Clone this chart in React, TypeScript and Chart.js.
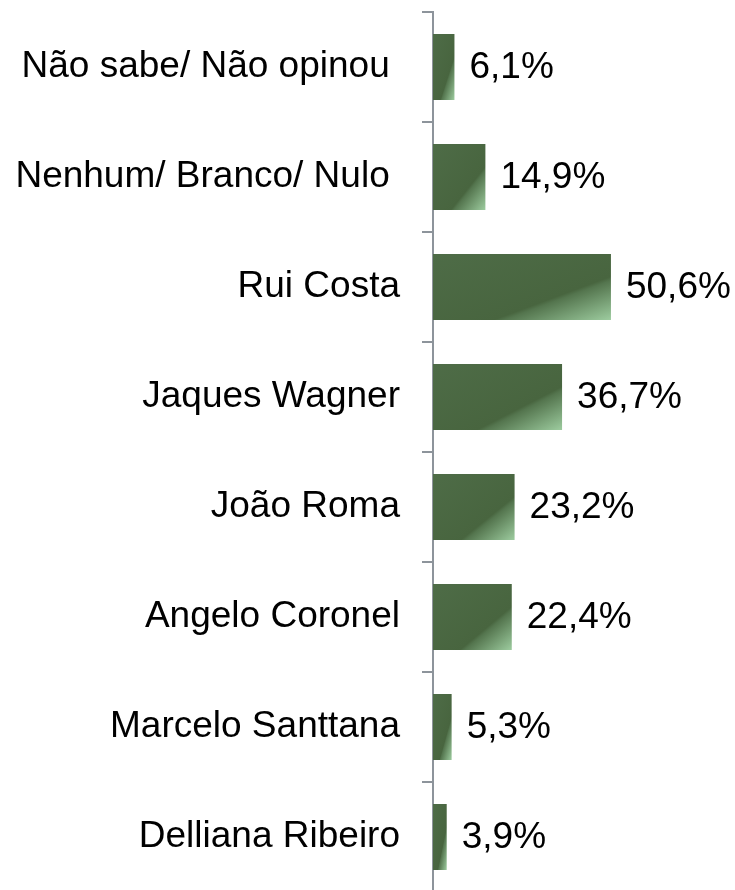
import React, { useEffect, useRef } from "react";
import { Chart, registerables } from "chart.js";

Chart.register(...registerables);

const categories = [
  "Não sabe/ Não opinou ",
  "Nenhum/ Branco/ Nulo ",
  "Rui Costa",
  "Jaques Wagner",
  "João Roma",
  "Angelo Coronel",
  "Marcelo Santtana",
  "Delliana Ribeiro",
];
const values = [6.1, 14.9, 50.6, 36.7, 23.2, 22.4, 5.3, 3.9];

const FONT = "'Liberation Sans', Arial, sans-serif";
const LIGHT = "#9DCC9F";
const AXIS = "#8D949B";

const valueLabels = {
  id: "valueLabels",
  afterDatasetsDraw(chart: any) {
    const ctx = chart.ctx;
    const meta = chart.getDatasetMeta(0);
    ctx.save();
    ctx.font = `37px ${FONT}`;
    ctx.fillStyle = "#000";
    ctx.textAlign = "left";
    ctx.textBaseline = "middle";
    meta.data.forEach((el: any, i: number) => {
      const v = values[i];
      const txt = v.toFixed(1).replace(".", ",") + "%";
      ctx.fillText(txt, el.x + 15, el.y + 1);
    });
    ctx.restore();
  },
};

export default function App() {
  const ref = useRef<HTMLCanvasElement | null>(null);
  useEffect(() => {
    if (!ref.current) return;
    const chart = new Chart(ref.current, {
      type: "bar",
      data: {
        labels: categories,
        datasets: [
          {
            data: values,
            categoryPercentage: 1,
            barPercentage: 0.6,
            borderWidth: 0,
            backgroundColor: (c: any) => {
              const ch = c.chart;
              const xs = ch.scales?.x;
              const ys = ch.scales?.y;
              if (c.type !== "data" || !xs || !ys || !ys.height) return "#4A6741";
              const x0 = xs.getPixelForValue(0);
              const x1 = xs.getPixelForValue(values[c.dataIndex]);
              const yc = ys.getPixelForValue(c.dataIndex);
              const h = (ys.height / categories.length) * 0.6;
              const w = x1 - x0;
              const nums = [x0, x1, yc, h];
              if (!nums.every((n) => Number.isFinite(n)) || w <= 0 || h <= 0) return "#4A6741";
              // shape-relative corner-to-corner gradient
              const gx = 0.5 / w;
              const gy = 0.5 / h;
              const g2 = gx * gx + gy * gy;
              const top = yc - h / 2;
              const g = ch.ctx.createLinearGradient(x0, top, x0 + gx / g2, top + gy / g2);
              g.addColorStop(0, "#4E6C47");
              g.addColorStop(0.67, "#48653F");
              g.addColorStop(0.7, "#54754E");
              g.addColorStop(1, LIGHT);
              return g;
            },
          },
        ],
      },
      options: {
        indexAxis: "y",
        animation: false,
        responsive: true,
        maintainAspectRatio: false,
        layout: { padding: { top: 12, bottom: 2, left: 0, right: 91 } },
        plugins: {
          legend: { display: false },
          tooltip: { enabled: false },
        },
        scales: {
          x: {
            display: false,
            min: 0,
            max: 60,
          },
          y: {
            afterFit: (s: any) => {
              s.width = 433;
              s.paddingTop = 0;
              s.paddingBottom = 0;
            },
            grid: {
              offset: true,
              drawOnChartArea: false,
              drawTicks: true,
              tickLength: 11,
              color: AXIS,
              lineWidth: 2,
            },
            border: { display: true, color: AXIS, width: 2 },
            ticks: {
              padding: 22,
              color: "#000",
              font: { family: FONT, size: 37 },
              autoSkip: false,
            },
          },
        },
      },
      plugins: [valueLabels],
    } as any);
    return () => chart.destroy();
  }, []);
  return (
    <div style={{ position: "absolute", left: 0, top: 0, width: 735, height: 894 }}>
      <canvas ref={ref} />
    </div>
  );
}
